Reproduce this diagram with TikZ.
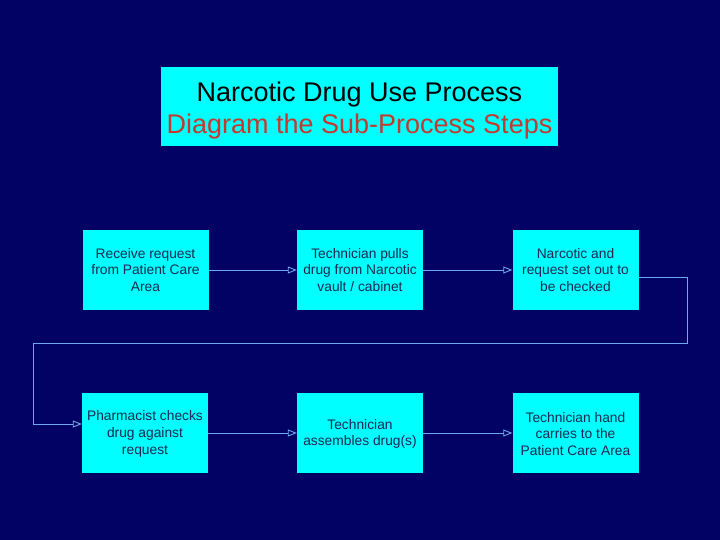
\documentclass[tikz,border=0pt]{standalone}
\usepackage{fontspec}
\setmainfont{Liberation Sans}
\usepackage{tikz}
\usetikzlibrary{arrows.meta}
\definecolor{slidebg}{HTML}{020264}
\definecolor{boxcyan}{HTML}{00FFFF}
\definecolor{boxtext}{HTML}{1C2A50}
\definecolor{titlered}{HTML}{C43A30}
\definecolor{linkblue}{HTML}{6FA8F0}
\tikzstyle{step_box}=[rectangle, fill=boxcyan, inner sep=0pt, align=center,
    minimum width=126pt, minimum height=80pt, text=boxtext,
    font=\fontsize{13.8}{16.7}\selectfont]
\tikzstyle{title_box}=[rectangle, fill=boxcyan, inner sep=0pt,
    minimum width=397pt, minimum height=79pt]
\tikzstyle{title_text}=[inner sep=0pt, align=center,
    font=\fontsize{27}{32}\selectfont]
\tikzstyle{link}=[draw=linkblue, line width=0.9pt,
    -{Triangle[open, length=9pt, width=7pt]}]

\begin{document}
\begin{tikzpicture}[x=1pt, y=-1pt]
\fill[slidebg] (0,0) rectangle (720,540);
\useasboundingbox (0,0) rectangle (720,540);
\node[title_box] (title) at (359.5,106.5){};
\node[title_text] (titletext) at ([yshift=-4pt]title.center){Narcotic Drug Use Process\\\textcolor{titlered}{Diagram the Sub-Process Steps}};
\node[step_box] (receive) at (145.5,270){Receive request\\from Patient Care\\Area};
\node[step_box] (pulls) at (360,270){Technician pulls\\drug from Narcotic\\vault / cabinet};
\node[step_box] (setout) at (575.5,270){Narcotic and\\request set out to\\be checked};
\node[step_box] (checks) at (145,433){\rule{0pt}{12pt}Pharmacist checks\\drug against\\request};
\node[step_box] (assembles) at (360,433){\rule{0pt}{12pt}Technician\\assembles drug(s)};
\node[step_box] (carries) at (575.5,433){\rule{0pt}{12pt}Technician hand\\carries to the\\Patient Care Area};
\coordinate (turnR) at (687,343);
\coordinate (turnL) at (33,343);
\draw[link](receive) -- (pulls);
\draw[link](pulls) -- (setout);
\draw[link]([yshift=-7pt]setout.east) -| (turnR) -- (turnL) |- ([yshift=9pt]checks.west);
\draw[link](checks) -- (assembles);
\draw[link](assembles) -- (carries);
\end{tikzpicture}
\end{document}
